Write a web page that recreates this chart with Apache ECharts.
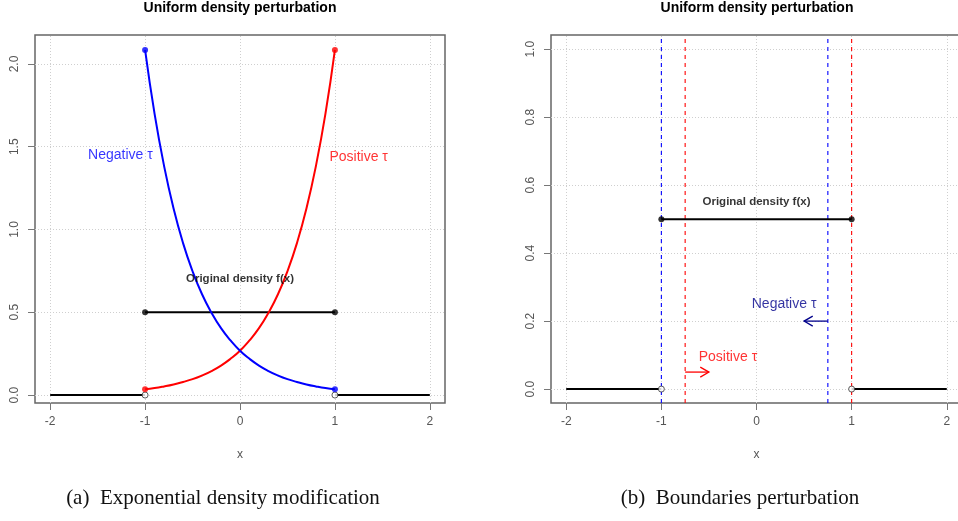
<!DOCTYPE html>
<html>
<head>
<meta charset="utf-8">
<script src="https://cdn.jsdelivr.net/npm/echarts@6/dist/echarts.min.js"></script>
<style>
    html, body { margin: 0; padding: 0; background: #fff; }
    #chart { width: 958px; height: 521px; }
</style>
</head>
<body>
<div id="chart"></div>
<script>
// tick values
const xTicks = [-2, -1, 0, 1, 2];
const leftYTicks = [0, 0.5, 1, 1.5, 2];
const rightYTicks = [0, 0.2, 0.4, 0.6, 0.8, 1];

// (a) exponential modification
const curveX = [-1, -0.9, -0.8, -0.7, -0.6, -0.5, -0.4, -0.3, -0.2, -0.1, 0,
    0.1, 0.2, 0.3, 0.4, 0.5, 0.6, 0.7, 0.8, 0.9, 1];
const positiveTau = [0.035, 0.042, 0.052, 0.064, 0.079, 0.096, 0.118, 0.145, 0.178, 0.219, 0.268,
    0.330, 0.404, 0.497, 0.609, 0.748, 0.918, 1.127, 1.384, 1.698, 2.085];
const negativeTau = [2.085, 1.698, 1.384, 1.127, 0.918, 0.748, 0.609, 0.497, 0.404, 0.330, 0.268,
    0.219, 0.178, 0.145, 0.118, 0.096, 0.079, 0.064, 0.052, 0.042, 0.035];

// uniform density pieces (both panels)
const outsideLeft = [[-2, 0], [-1, 0]];
const outsideRight = [[1, 0], [2, 0]];
const originalDensity = [[-1, 0.5], [1, 0.5]];
const openPoints = [[-1, 0], [1, 0]];

// (b) boundaries
const negativeBounds = [-1, 0.75];
const positiveBounds = [-0.75, 1];
const negativeArrow = [[0.75, 0.2, 0.5, 0.2]];
const positiveArrow = [[-0.75, 0.05, -0.5, 0.05]];

// y ranges of the two plot boxes
const leftYRange = [-0.048, 2.175];
const rightYRange = [-0.041, 1.042];

// text labels
const leftTexts = [
    { name: "Original density f(x)", value: [0, 0.70], kind: "orig" },
    { name: "Negative τ", value: [-1.26, 1.45], kind: "neg" },
    { name: "Positive τ", value: [1.25, 1.44], kind: "pos" },
];
const rightTexts = [
    { name: "Original density f(x)", value: [0, 0.55], kind: "orig" },
    { name: "Negative τ", value: [0.29, 0.25], kind: "negDark" },
    { name: "Positive τ", value: [-0.3, 0.095], kind: "pos" },
];

const FONT = "'Liberation Sans', Arial, sans-serif";
const SERIF = "'Liberation Serif', 'Times New Roman', serif";
const textColors = { orig: "#000", neg: "#0000ff", pos: "#ff0000", negDark: "#00008b" };

const chart = echarts.init(document.getElementById("chart"), null, { renderer: "canvas" });

function xAxisFor(gridIndex) {
    return {
        gridIndex: gridIndex,
        type: "value",
        min: -2.16,
        max: 2.16,
        name: "x",
        nameLocation: "middle",
        nameGap: 46,
        nameTextStyle: { color: "#555", fontSize: 12, fontFamily: FONT },
        axisLine: { show: false, onZero: false },
        axisTick: { show: true, length: 7, lineStyle: { color: "#777" }, customValues: xTicks },
        axisLabel: { show: true, margin: 13, color: "#555", fontSize: 12, fontFamily: FONT, customValues: xTicks },
        splitLine: { show: false },
    };
}

function yAxisFor(gridIndex, range, ticks, digits) {
    return {
        gridIndex: gridIndex,
        type: "value",
        min: range[0],
        max: range[1],
        axisLine: { show: false, onZero: false },
        axisTick: { show: true, length: 7, lineStyle: { color: "#777" }, customValues: ticks },
        axisLabel: {
            show: true,
            rotate: 90,
            margin: 14,
            color: "#555",
            fontSize: 12,
            fontFamily: FONT,
            customValues: ticks,
            formatter: (v) => v.toFixed(digits),
        },
        splitLine: { show: false },
    };
}

// dotted reference grid like R's grid()
function gridLines(xi, yi, yTicks) {
    return {
        type: "line",
        xAxisIndex: xi,
        yAxisIndex: yi,
        data: [],
        silent: true,
        z: 1,
        markLine: {
            silent: true,
            z: 1,
            symbol: ["none", "none"],
            label: { show: false },
            lineStyle: { color: "#cfcfcf", type: [1, 2], width: 1 },
            data: xTicks.map((v) => ({ xAxis: v })).concat(yTicks.map((v) => ({ yAxis: v }))),
        },
    };
}

function blackLine(xi, yi, data) {
    return {
        type: "line",
        xAxisIndex: xi,
        yAxisIndex: yi,
        data: data,
        symbol: "none",
        lineStyle: { color: "#000", width: 2 },
        z: 3,
        silent: true,
    };
}

function dots(xi, yi, data, color, size) {
    return {
        type: "scatter",
        xAxisIndex: xi,
        yAxisIndex: yi,
        data: data,
        symbolSize: size,
        itemStyle: { color: color },
        z: 6,
        silent: true,
    };
}

function openDots(xi, yi, data) {
    return {
        type: "scatter",
        xAxisIndex: xi,
        yAxisIndex: yi,
        data: data,
        symbolSize: 6,
        itemStyle: { color: "#fff", borderColor: "#333", borderWidth: 1 },
        z: 6,
        silent: true,
    };
}

function styledTexts(xi, yi, arr) {
    return {
        type: "scatter",
        xAxisIndex: xi,
        yAxisIndex: yi,
        data: arr.map((t) => ({
            name: t.name,
            value: t.value,
            label: {
                color: textColors[t.kind],
                fontFamily: FONT,
                fontSize: t.kind === "orig" ? 11.5 : 14,
                fontWeight: t.kind === "orig" ? "bold" : "normal",
            },
        })),
        symbolSize: 1,
        itemStyle: { color: "transparent" },
        z: 8,
        silent: true,
        label: { show: true, position: "inside", formatter: (p) => p.name },
        emphasis: { disabled: true },
    };
}

// vertical dashed boundary, spanning the whole plot box
function boundaryLine(xi, yi, x, range, color) {
    return {
        type: "line",
        xAxisIndex: xi,
        yAxisIndex: yi,
        data: [[x, range[0]], [x, range[1]]],
        symbol: "none",
        lineStyle: { color: color, type: [4, 4], width: 1.1 },
        z: 2,
        silent: true,
    };
}

function arrow(xi, yi, data, color) {
    return {
        type: "custom",
        xAxisIndex: xi,
        yAxisIndex: yi,
        data: data,
        silent: true,
        z: 7,
        renderItem: function (params, api) {
            const p0 = api.coord([api.value(0), api.value(1)]);
            const p1 = api.coord([api.value(2), api.value(3)]);
            const ang = Math.atan2(p1[1] - p0[1], p1[0] - p0[0]);
            const len = 10;
            const spread = Math.PI / 6;
            const h1 = [p1[0] - len * Math.cos(ang - spread), p1[1] - len * Math.sin(ang - spread)];
            const h2 = [p1[0] - len * Math.cos(ang + spread), p1[1] - len * Math.sin(ang + spread)];
            const style = { stroke: color, lineWidth: 1.3, fill: null };
            return {
                type: "group",
                children: [
                    { type: "polyline", shape: { points: [p0, p1] }, style: style },
                    { type: "polyline", shape: { points: [h1, p1, h2] }, style: style },
                ],
            };
        },
    };
}

const titleStyle = { fontFamily: FONT, fontSize: 14, fontWeight: "bold", color: "#000" };
const captionStyle = { fontFamily: SERIF, fontSize: 21, fontWeight: "normal", color: "#111" };

const option = {
    backgroundColor: "#fff",
    animation: false,
    title: [
        { text: "Uniform density perturbation", left: 240, top: 1, padding: 0, textAlign: "center", textStyle: titleStyle },
        { text: "Uniform density perturbation", left: 757, top: 1, padding: 0, textAlign: "center", textStyle: titleStyle },
        { text: "(a)\u2002Exponential density modification", left: 223, top: 488, padding: 0, textAlign: "center", textStyle: captionStyle },
        { text: "(b)\u2002Boundaries perturbation", left: 740, top: 488, padding: 0, textAlign: "center", textStyle: captionStyle },
    ],
    grid: [
        { left: 35, top: 35, width: 410, height: 368, outerBoundsMode: "none", show: true, borderColor: "#666", borderWidth: 1.5, backgroundColor: "#fff" },
        { left: 551, top: 35, width: 411, height: 368, outerBoundsMode: "none", show: true, borderColor: "#666", borderWidth: 1.5, backgroundColor: "#fff" },
    ],
    xAxis: [xAxisFor(0), xAxisFor(1)],
    yAxis: [
        yAxisFor(0, leftYRange, leftYTicks, 1),
        yAxisFor(1, rightYRange, rightYTicks, 1),
    ],
    series: [
        // panel (a)
        gridLines(0, 0, leftYTicks),
        blackLine(0, 0, outsideLeft),
        blackLine(0, 0, outsideRight),
        blackLine(0, 0, originalDensity),
        {
            type: "line",
            xAxisIndex: 0,
            yAxisIndex: 0,
            data: curveX.map((x, i) => [x, positiveTau[i]]),
            symbol: "none",
            smooth: true,
            lineStyle: { color: "#ff0000", width: 2 },
            z: 4,
            silent: true,
        },
        {
            type: "line",
            xAxisIndex: 0,
            yAxisIndex: 0,
            data: curveX.map((x, i) => [x, negativeTau[i]]),
            symbol: "none",
            smooth: true,
            lineStyle: { color: "#0000ff", width: 2 },
            z: 4,
            silent: true,
        },
        dots(0, 0, originalDensity, "#000", 6),
        openDots(0, 0, openPoints),
        dots(0, 0, [[curveX[0], positiveTau[0]], [curveX[curveX.length - 1], positiveTau[positiveTau.length - 1]]], "#ff0000", 6),
        dots(0, 0, [[curveX[0], negativeTau[0]], [curveX[curveX.length - 1], negativeTau[negativeTau.length - 1]]], "#0000ff", 6),
        styledTexts(0, 0, leftTexts),

        // panel (b)
        gridLines(1, 1, rightYTicks),
        ...negativeBounds.map((x) => boundaryLine(1, 1, x, rightYRange, "#0000ff")),
        ...positiveBounds.map((x) => boundaryLine(1, 1, x, rightYRange, "#ff0000")),
        blackLine(1, 1, outsideLeft),
        blackLine(1, 1, outsideRight),
        blackLine(1, 1, originalDensity),
        dots(1, 1, originalDensity, "#000", 6),
        openDots(1, 1, openPoints),
        arrow(1, 1, negativeArrow, "#00008b"),
        arrow(1, 1, positiveArrow, "#ff0000"),
        styledTexts(1, 1, rightTexts),
    ],
};

chart.setOption(option);
</script>
</body>
</html>
